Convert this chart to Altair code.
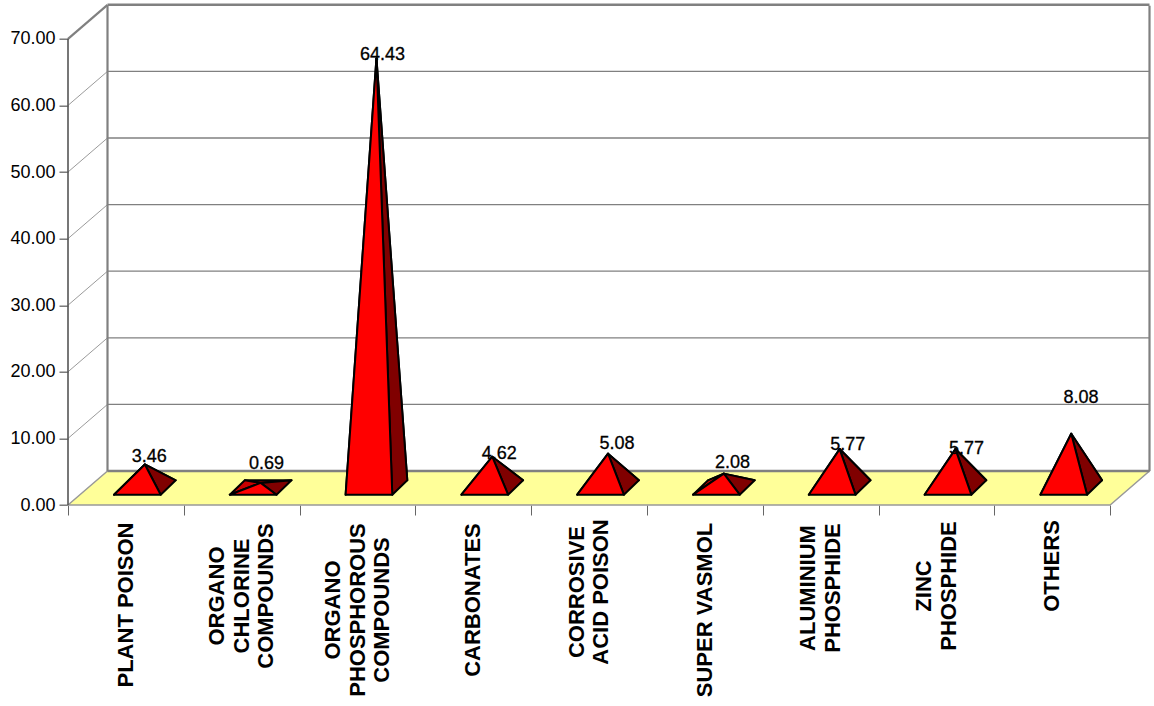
import altair as alt
import pandas as pd

# Poison categories and their percentage shares
categories = [
    "PLANT POISON",
    "ORGANO\nCHLORINE\nCOMPOUNDS",
    "ORGANO\nPHOSPHOROUS\nCOMPOUNDS",
    "CARBONATES",
    "CORROSIVE\nACID POISON",
    "SUPER VASMOL",
    "ALUMINIUM\nPHOSPHIDE",
    "ZINC\nPHOSPHIDE",
    "OTHERS",
]
shares = [3.46, 0.69, 64.43, 4.62, 5.08, 2.08, 5.77, 5.77, 8.08]
y_ticks = [0, 10, 20, 30, 40, 50, 60, 70]

# Layout, in pixels of the plot frame
LEFT, TOP, BOTTOM = 68.0, 5.7, 505.0
SLOT_PX = 115.8
PX_PER_UNIT = 6.66
LINE_PX = 24.7
WALL_DX = 39.5 / SLOT_PX        # depth of the floor, in category units
WALL_DY = 34.0 / PX_PER_UNIT    # depth of the floor, in value units
X_MAX = (1149.5 - LEFT) / SLOT_PX
Y_MAX = (BOTTOM - TOP) / PX_PER_UNIT

# Pyramid base, relative to its slot
BASE_X = 46.0 / SLOT_PX
BASE_W = 46.7 / SLOT_PX
BASE_Y = 10.3 / PX_PER_UNIT
DEPTH_X = 15.0 / SLOT_PX
DEPTH_Y = 14.4 / PX_PER_UNIT

# Hand placement of the value labels relative to each apex (right, up) and of
# the rotated category labels (centre below the floor's front edge)
label_nudge = [(4.5, 7.8), (5.9, 19), (6, 3), (7, 2.7), (9, 9.6),
               (8.6, 10.6), (8, 4), (11, 0), (9.7, 35.7)]
category_drop = [100, 91, 105, 95, 87, 105, 83, 81, 61]

x_scale = alt.Scale(domain=[0, X_MAX], nice=False, zero=False)
y_scale = alt.Scale(domain=[0, Y_MAX], nice=False, zero=False)
x_enc = alt.X("x:Q", scale=x_scale, title=None, axis=alt.Axis(
    values=list(range(10)), labels=False, title=None, grid=False, domain=False,
    tickColor="#666666", tickSize=10, tickWidth=1, orient="bottom"))
y_enc = alt.Y("y:Q", scale=y_scale, title=None, axis=alt.Axis(
    values=y_ticks, format=".2f", title=None, grid=False, domain=False,
    tickColor="#666666", tickSize=9, tickWidth=1.3, labelPadding=4,
    labelFont="Liberation Sans", labelFontSize=18, labelColor="#000000",
    labelFontWeight=500))


def pyramid_faces(order):
    """Polygon vertices for one face type of every pyramid."""
    rows = []
    for i, v in enumerate(shares):
        fl = (i + BASE_X, BASE_Y)
        fr = (i + BASE_X + BASE_W, BASE_Y)
        br = (fr[0] + DEPTH_X, BASE_Y + DEPTH_Y)
        bl = (fl[0] + DEPTH_X, BASE_Y + DEPTH_Y)
        apex = (i + BASE_X + (BASE_W + DEPTH_X) / 2, BASE_Y + DEPTH_Y / 2 + v)
        corners = {"front": (fl, fr, apex), "right": (fr, br, apex),
                   "back": (bl, br, apex), "left": (fl, bl, apex)}[order]
        for k, (px, py) in enumerate(corners):
            rows.append({"x": px, "y": py, "k": k, "cat": i})
    return pd.DataFrame(rows)


def polygon(df, fill, stroke, width):
    return alt.Chart(df).mark_line(
        interpolate="linear-closed", fill=fill, stroke=stroke,
        strokeWidth=width, strokeJoin="round", clip=False,
    ).encode(x=x_enc, y=y_enc, order="k:Q", detail="cat:N")


# Yellow floor
floor = polygon(
    pd.DataFrame({"x": [0, 9, X_MAX, WALL_DX], "y": [0, 0, WALL_DY, WALL_DY],
                  "k": range(4), "cat": [0] * 4}),
    "#FFFF99", "#999999", 1.5,
)

# Back wall gridlines, from the wall's left edge to its right edge
grid = alt.Chart(pd.DataFrame({
    "x": [WALL_DX] * len(y_ticks),
    "x2": [X_MAX] * len(y_ticks),
    "y": [t + WALL_DY for t in y_ticks],
    "edge": [t in (y_ticks[0], y_ticks[-1]) for t in y_ticks],
})).mark_rule(color="#808080").encode(
    x=x_enc, x2="x2:Q", y=y_enc,
    strokeWidth=alt.StrokeWidth("edge:N", scale=alt.Scale(domain=[False, True], range=[1.3, 2.5]), legend=None),
)

# Thin diagonals joining the front axis to the back wall
diag_rows = []
for t in y_ticks[1:]:
    diag_rows += [{"x": 0, "y": t, "k": 0, "t": t}, {"x": WALL_DX, "y": t + WALL_DY, "k": 1, "t": t}]
diagonals = alt.Chart(pd.DataFrame(diag_rows)).mark_line(clip=False).encode(
    x=x_enc, y=y_enc, order="k:Q", detail="t:N",
    color=alt.value("#808080"),
    strokeWidth=alt.StrokeWidth("t:Q", scale=alt.Scale(domain=[69, 70], range=[0.8, 2.2], clamp=True), legend=None),
)

# Vertical wall edges
walls = alt.Chart(pd.DataFrame({
    "x": [WALL_DX, X_MAX], "y": [WALL_DY, WALL_DY], "y2": [Y_MAX, Y_MAX],
})).mark_rule(color="#808080", strokeWidth=2.2).encode(x=x_enc, y=y_enc, y2="y2:Q")

# Front value axis line
y_axis = alt.Chart(pd.DataFrame({"x": [0], "y": [0], "y2": [70]})).mark_rule(
    color="#555555", strokeWidth=1.6
).encode(x=x_enc, y=y_enc, y2="y2:Q")

# Value labels above the apexes
value_df = pd.DataFrame({
    "x": [i + BASE_X + (BASE_W + DEPTH_X) / 2 + label_nudge[i][0] / SLOT_PX for i in range(len(shares))],
    "y": [BASE_Y + DEPTH_Y / 2 + v + label_nudge[i][1] / PX_PER_UNIT for i, v in enumerate(shares)],
    "share": shares,
})
value_labels = alt.Chart(value_df).mark_text(
    font="Liberation Sans", fontSize=18, color="#000000", align="center", baseline="middle",
    stroke="#000000", strokeWidth=0.3,
).encode(x=x_enc, y=y_enc, text=alt.Text("share:Q", format=".2f"))

# Rotated, centred category labels below the floor, one row per text line
cat_rows = []
for i, name in enumerate(categories):
    lines = name.split("\n")
    for j, line in enumerate(lines):
        cat_rows.append({
            "x": i + 0.5 + (j - (len(lines) - 1) / 2) * LINE_PX / SLOT_PX,
            "y": -category_drop[i] / PX_PER_UNIT,
            "name": line,
        })
cat_labels = alt.Chart(pd.DataFrame(cat_rows)).mark_text(
    font="Liberation Sans", fontSize=22, fontWeight="bold", color="#000000",
    angle=270, align="center", baseline="middle",
).encode(x=x_enc, y=y_enc, text="name:N")

chart = alt.layer(
    floor, grid, diagonals, walls, y_axis,
    polygon(pyramid_faces("back"), "#800000", "#000000", 2),
    polygon(pyramid_faces("left"), "#C80000", "#000000", 2),
    polygon(pyramid_faces("right"), "#800000", "#000000", 2),
    polygon(pyramid_faces("front"), "#FF0000", "#000000", 2),
    value_labels, cat_labels,
).properties(
    width=1149.5 - LEFT,
    height=BOTTOM - TOP,
    autosize="none",
    padding={"left": LEFT, "top": TOP, "right": 4.5, "bottom": 201},
    background="#FFFFFF",
).configure_view(stroke=None)

chart.save("out.html", embed_options={"renderer": "svg", "actions": False})
